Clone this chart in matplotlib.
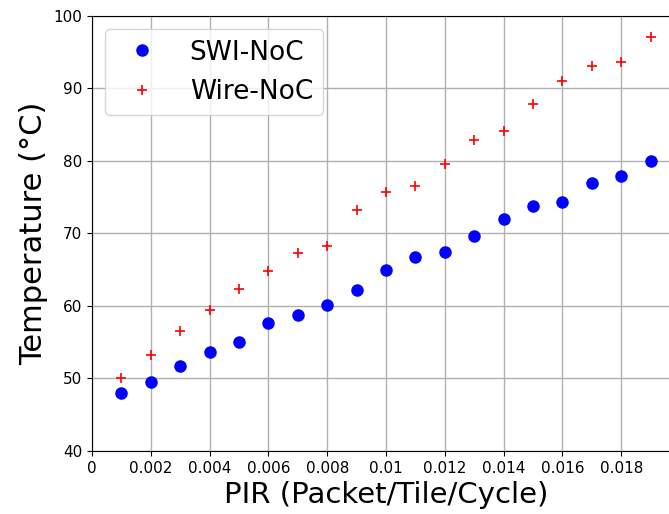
import numpy as np
import matplotlib
matplotlib.use("Agg")
import matplotlib.pyplot as plt

# packet injection rate (packet/tile/cycle)
pir = [0.001, 0.002, 0.003, 0.004, 0.005, 0.006, 0.007, 0.008, 0.009, 0.010,
       0.011, 0.012, 0.013, 0.014, 0.015, 0.016, 0.017, 0.018, 0.019]

# peak temperature (C)
temp_swi = [48.0, 49.5, 51.7, 53.6, 55.1, 57.6, 58.8, 60.2, 62.2, 65.0,
            66.8, 67.5, 69.6, 72.0, 73.8, 74.4, 77.0, 77.9, 80.0]
temp_wire = [50.0, 53.2, 56.5, 59.5, 62.3, 64.8, 67.3, 68.3, 73.2, 75.7,
             76.6, 79.6, 82.9, 84.1, 87.9, 91.0, 93.1, 93.6, 97.1]

xticks = [0, 0.002, 0.004, 0.006, 0.008, 0.01, 0.012, 0.014, 0.016, 0.018]
xtick_labels = ['0', '0.002', '0.004', '0.006', '0.008', '0.01',
                '0.012', '0.014', '0.016', '0.018']
yticks = [40, 50, 60, 70, 80, 90, 100]

fig = plt.figure(figsize=(6.69, 5.14), dpi=100)
ax = fig.add_axes([0.1375, 0.1226, 0.879, 0.8463])

ax.plot(pir, temp_swi, 'bo', markersize=8, label='SWI-NoC')
ax.plot(pir, temp_wire, 'r+', markersize=7, markeredgewidth=1.2, label='Wire-NoC')

ax.set_xlim(0, 0.02)
ax.set_ylim(40, 100)
ax.set_xticks(xticks)
ax.set_xticklabels(xtick_labels)
ax.set_yticks(yticks)
ax.tick_params(labelsize=11)
ax.grid(True, color='#b0b0b0', linewidth=1)

ax.set_xlabel('PIR (Packet/Tile/Cycle)', fontsize=21)
ax.set_ylabel('Temperature (°C)', fontsize=22)

ax.legend(loc='upper left', fontsize=19, handletextpad=0.8, borderaxespad=0.5)

fig.savefig('out.png', dpi=100)
